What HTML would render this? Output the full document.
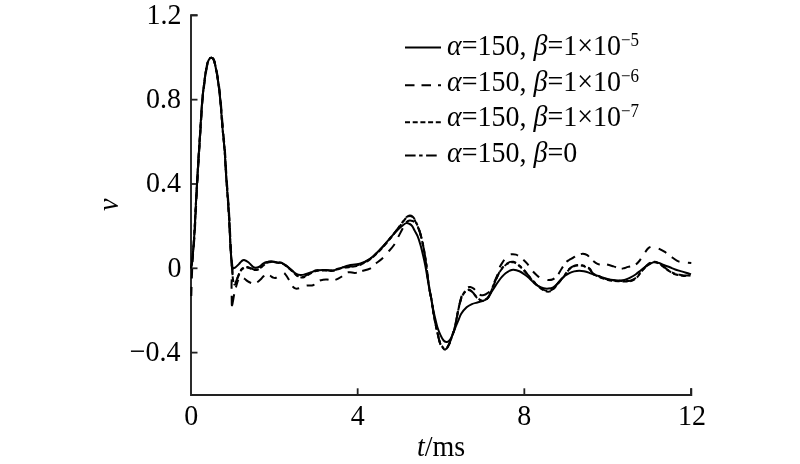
<!DOCTYPE html>
<html><head><meta charset="utf-8"><style>
html,body{margin:0;padding:0;background:#fff;}
svg{display:block;}
text{font-family:'Liberation Serif','Times New Roman',serif;font-size:28px;fill:#000;}
</style></head><body>
<svg width="800" height="464" viewBox="0 0 800 464">
<rect width="800" height="464" fill="#fff"/>
<path d="M197.5 15.3 H191 V395 H691.3 V388.3" fill="none" stroke="#222" stroke-width="1.9"/>
<line x1="191" y1="15.34" x2="197.5" y2="15.34" stroke="#222" stroke-width="1.8"/>
<g transform="translate(181.50 23.84) scale(1 1.070)"><text x="0" y="0" text-anchor="end">1.2</text></g>
<line x1="191" y1="99.66" x2="197.5" y2="99.66" stroke="#222" stroke-width="1.8"/>
<g transform="translate(181.00 108.16) scale(1 1.070)"><text x="0" y="0" text-anchor="end">0.8</text></g>
<line x1="191" y1="183.98" x2="197.5" y2="183.98" stroke="#222" stroke-width="1.8"/>
<g transform="translate(181.00 192.48) scale(1 1.070)"><text x="0" y="0" text-anchor="end">0.4</text></g>
<line x1="191" y1="268.30" x2="197.5" y2="268.30" stroke="#222" stroke-width="1.8"/>
<g transform="translate(181.50 276.80) scale(1 1.070)"><text x="0" y="0" text-anchor="end">0</text></g>
<line x1="191" y1="352.62" x2="197.5" y2="352.62" stroke="#222" stroke-width="1.8"/>
<g transform="translate(180.50 361.12) scale(1 1.070)"><text x="0" y="0" text-anchor="end">−0.4</text></g>
<g transform="translate(191.35 425.30) scale(1 1.070)"><text x="0" y="0" text-anchor="middle">0</text></g>
<line x1="357.67" y1="395" x2="357.67" y2="388.3" stroke="#222" stroke-width="1.8"/>
<g transform="translate(357.67 425.30) scale(1 1.070)"><text x="0" y="0" text-anchor="middle">4</text></g>
<line x1="524.33" y1="395" x2="524.33" y2="388.3" stroke="#222" stroke-width="1.8"/>
<g transform="translate(524.33 425.30) scale(1 1.070)"><text x="0" y="0" text-anchor="middle">8</text></g>
<line x1="691.00" y1="395" x2="691.00" y2="388.3" stroke="#222" stroke-width="1.8"/>
<g transform="translate(692.00 425.30) scale(1 1.070)"><text x="0" y="0" text-anchor="middle">12</text></g>

<g clip-path="url(#c)">
<path d="M191.30 296.00 C191.35 294.17 191.48 288.67 191.60 285.00 C191.72 281.33 191.83 278.17 192.00 274.00 C192.17 269.83 192.17 266.50 192.60 260.00 C193.03 253.50 193.97 245.00 194.60 235.00 C195.23 225.00 195.77 211.67 196.40 200.00 C197.03 188.33 197.70 176.67 198.40 165.00 C199.10 153.33 199.90 140.83 200.60 130.00 C201.30 119.17 201.88 108.33 202.60 100.00 C203.32 91.67 204.12 85.83 204.90 80.00 C205.68 74.17 206.53 68.47 207.30 65.00 C208.07 61.53 208.78 60.42 209.50 59.20 C210.22 57.98 210.90 57.70 211.60 57.70 C212.30 57.70 213.05 57.98 213.70 59.20 C214.35 60.42 214.75 61.53 215.50 65.00 C216.25 68.47 217.35 74.17 218.20 80.00 C219.05 85.83 219.80 91.67 220.60 100.00 C221.40 108.33 222.28 121.67 223.00 130.00 C223.72 138.33 224.33 142.50 224.90 150.00 C225.47 157.50 225.85 166.67 226.40 175.00 C226.95 183.33 227.68 192.50 228.20 200.00 C228.72 207.50 229.08 212.50 229.50 220.00 C229.92 227.50 230.33 238.33 230.70 245.00 C231.07 251.67 231.42 256.12 231.70 260.00 C231.98 263.88 232.42 264.63 232.40 268.30 C232.38 271.97 231.72 277.38 231.60 282.00 C231.48 286.62 231.65 292.12 231.70 296.00 C231.75 299.88 231.68 304.47 231.90 305.30 C232.12 306.13 232.62 302.83 233.00 301.00 C233.38 299.17 233.70 296.63 234.20 294.30 C234.70 291.97 235.37 289.30 236.00 287.00 C236.63 284.70 237.33 282.20 238.00 280.50 C238.67 278.80 239.28 277.35 240.00 276.80 C240.72 276.25 241.53 276.87 242.30 277.20 C243.07 277.53 243.73 278.13 244.60 278.80 C245.47 279.47 246.52 280.53 247.50 281.20 C248.48 281.87 249.45 282.40 250.50 282.80 C251.55 283.20 252.72 283.67 253.80 283.60 C254.88 283.53 255.88 283.08 257.00 282.40 C258.12 281.72 259.43 280.50 260.50 279.50 C261.57 278.50 262.40 277.18 263.40 276.40 C264.40 275.62 265.40 274.92 266.50 274.80 C267.60 274.68 268.92 275.25 270.00 275.70 C271.08 276.15 272.00 277.17 273.00 277.50 C274.00 277.83 274.83 278.18 276.00 277.70 C277.17 277.22 278.75 275.42 280.00 274.60 C281.25 273.78 282.50 272.70 283.50 272.80 C284.50 272.90 285.15 274.12 286.00 275.20 C286.85 276.28 287.60 277.57 288.60 279.30 C289.60 281.03 290.90 284.08 292.00 285.60 C293.10 287.12 294.03 287.95 295.20 288.40 C296.37 288.85 297.20 288.77 299.00 288.30 C300.80 287.83 303.67 286.12 306.00 285.60 C308.33 285.08 310.83 285.98 313.00 285.20 C315.17 284.42 317.33 281.80 319.00 280.90 C320.67 280.00 321.65 280.02 323.00 279.80 C324.35 279.58 325.77 279.52 327.10 279.60 C328.43 279.68 329.68 280.23 331.00 280.30 C332.32 280.37 333.33 280.55 335.00 280.00 C336.67 279.45 339.17 278.20 341.00 277.00 C342.83 275.80 344.50 273.60 346.00 272.80 C347.50 272.00 348.50 272.17 350.00 272.20 C351.50 272.23 353.10 273.17 355.00 273.00 C356.90 272.83 358.90 271.93 361.40 271.20 C363.90 270.47 367.70 269.80 370.00 268.60 C372.30 267.40 373.20 265.63 375.20 264.00 C377.20 262.37 379.87 260.77 382.00 258.80 C384.13 256.83 386.00 254.50 388.00 252.20 C390.00 249.90 392.33 247.48 394.00 245.00 C395.67 242.52 396.67 239.83 398.00 237.30 C399.33 234.77 400.92 231.88 402.00 229.80 C403.08 227.72 403.73 226.10 404.50 224.80 C405.27 223.50 405.75 222.70 406.60 222.00 C407.45 221.30 408.62 220.77 409.60 220.60 C410.58 220.43 411.67 220.72 412.50 221.00 C413.33 221.28 413.87 221.60 414.60 222.30 C415.33 223.00 416.12 223.82 416.90 225.20 C417.68 226.58 418.62 228.73 419.30 230.60 C419.98 232.47 420.38 234.00 421.00 236.40 C421.62 238.80 422.37 241.90 423.00 245.00 C423.63 248.10 424.25 251.67 424.80 255.00 C425.35 258.33 425.80 261.17 426.30 265.00 C426.80 268.83 427.25 273.83 427.80 278.00 C428.35 282.17 428.98 286.33 429.60 290.00 C430.22 293.67 430.93 296.67 431.50 300.00 C432.07 303.33 432.53 307.00 433.00 310.00 C433.47 313.00 433.68 314.73 434.30 318.00 C434.92 321.27 435.92 325.98 436.70 329.60 C437.48 333.22 438.37 337.23 439.00 339.70 C439.63 342.17 439.85 343.05 440.50 344.40 C441.15 345.75 442.25 346.98 442.90 347.80 C443.55 348.62 443.77 349.18 444.40 349.30 C445.03 349.42 445.98 349.20 446.70 348.50 C447.42 347.80 448.12 346.18 448.70 345.10 C449.28 344.02 449.62 343.55 450.20 342.00 C450.78 340.45 451.48 337.98 452.20 335.80 C452.92 333.62 453.87 331.22 454.50 328.90 C455.13 326.58 455.53 324.22 456.00 321.90 C456.47 319.58 456.88 317.15 457.30 315.00 C457.72 312.85 457.97 311.50 458.50 309.00 C459.03 306.50 459.83 302.58 460.50 300.00 C461.17 297.42 461.75 295.25 462.50 293.50 C463.25 291.75 464.17 290.50 465.00 289.50 C465.83 288.50 466.62 287.92 467.50 287.50 C468.38 287.08 469.28 286.82 470.30 287.00 C471.32 287.18 472.25 287.47 473.60 288.60 C474.95 289.73 476.83 292.68 478.40 293.80 C479.97 294.92 481.38 295.47 483.00 295.30 C484.62 295.13 486.77 293.85 488.10 292.80 C489.43 291.75 490.13 290.42 491.00 289.00 C491.87 287.58 492.28 286.52 493.30 284.30 C494.32 282.08 496.12 278.38 497.10 275.70 C498.08 273.02 498.22 270.53 499.20 268.20 C500.18 265.87 501.87 263.53 503.00 261.70 C504.13 259.87 505.00 258.35 506.00 257.20 C507.00 256.05 507.92 255.30 509.00 254.80 C510.08 254.30 511.33 254.23 512.50 254.20 C513.67 254.17 514.83 254.22 516.00 254.60 C517.17 254.98 518.45 255.82 519.50 256.50 C520.55 257.18 521.02 257.52 522.30 258.70 C523.58 259.88 525.58 261.65 527.20 263.60 C528.82 265.55 530.32 268.38 532.00 270.40 C533.68 272.42 535.80 274.43 537.30 275.70 C538.80 276.97 539.53 277.35 541.00 278.00 C542.47 278.65 544.77 279.27 546.10 279.60 C547.43 279.93 547.95 280.02 549.00 280.00 C550.05 279.98 551.32 279.92 552.40 279.50 C553.48 279.08 554.57 278.28 555.50 277.50 C556.43 276.72 556.98 276.25 558.00 274.80 C559.02 273.35 560.35 270.78 561.60 268.80 C562.85 266.82 564.27 264.37 565.50 262.90 C566.73 261.43 567.70 260.88 569.00 260.00 C570.30 259.12 572.05 258.35 573.30 257.60 C574.55 256.85 575.45 256.02 576.50 255.50 C577.55 254.98 578.52 254.78 579.60 254.50 C580.68 254.22 581.72 253.68 583.00 253.80 C584.28 253.92 585.77 254.17 587.30 255.20 C588.83 256.23 590.50 258.55 592.20 260.00 C593.90 261.45 595.87 263.17 597.50 263.90 C599.13 264.63 600.60 264.35 602.00 264.40 C603.40 264.45 603.98 263.87 605.90 264.20 C607.82 264.53 611.17 265.67 613.50 266.40 C615.83 267.13 618.15 268.30 619.90 268.60 C621.65 268.90 622.65 268.48 624.00 268.20 C625.35 267.92 626.25 267.38 628.00 266.90 C629.75 266.42 632.62 266.28 634.50 265.30 C636.38 264.32 637.68 262.97 639.30 261.00 C640.92 259.03 642.67 255.65 644.20 253.50 C645.73 251.35 647.28 249.25 648.50 248.10 C649.72 246.95 650.50 246.87 651.50 246.60 C652.50 246.33 653.52 246.28 654.50 246.50 C655.48 246.72 655.75 247.03 657.40 247.90 C659.05 248.77 662.25 250.35 664.40 251.70 C666.55 253.05 668.15 254.47 670.30 256.00 C672.45 257.53 675.43 259.87 677.30 260.90 C679.17 261.93 680.05 261.93 681.50 262.20 C682.95 262.47 684.37 262.37 686.00 262.50 C687.63 262.63 690.42 262.92 691.30 263.00" fill="none" stroke="#000" stroke-width="2.00" stroke-linejoin="round" stroke-dasharray="9.0 8.5 9.5 7.0 8.8 7.0 8.8 7.0 8.8 7.0 8.8 7.0 8.8 7.0 8.8 7.0 8.8 7.0 8.8 7.0 8.8 7.0 8.8 7.0 8.8 7.0 8.8 7.0 8.8 7.0 8.8 7.0 8.8 7.0 8.8 7.0 8.8 7.0 8.8 7.0 8.8 7.0 8.8 7.0 8.8 7.0 8.8 7.0 8.8 7.0 8.8 7.0 8.8 7.0 8.8 7.0 8.8 10.9 9.5 7.0 21.0 7.0 8.0 8.0 8.5 6.5 9.5 6.0 7.5 9.0 8.5 7.0 7.5 8.0 8.0 6.5 9.0 7.0 7.5 7.0 9.5 5.5 9.0 7.0 9.0 8.5 9.5 8.0 9.5 7.0 9.0 6.8 8.8 7.0 8.8 7.0 8.8 7.0 8.8 7.0 8.8 7.0 8.8 7.0 8.8 7.0 8.8 7.0 8.8 7.0 8.8 7.0 8.8 7.0 8.8 11.1 8.0 6.5 11.0 10.5 8.5 7.5 8.5 9.0 7.5 7.0 7.5 7.5 8.5 8.5 7.5 6.0 8.5 6.0 10.0 6.5 9.0 6.0 7.5 7.5 9.0 6.0 9.0 6.0 7.5 8.0 7.5 9.0 8.5 7.0 9.0 8.5 9.5 2000.0"/>
<path d="M191.00 268.30 C191.22 266.92 191.75 265.55 192.30 260.00 C192.85 254.45 193.67 245.00 194.30 235.00 C194.93 225.00 195.47 211.67 196.10 200.00 C196.73 188.33 197.40 176.67 198.10 165.00 C198.80 153.33 199.60 140.83 200.30 130.00 C201.00 119.17 201.58 108.33 202.30 100.00 C203.02 91.67 203.82 85.83 204.60 80.00 C205.38 74.17 206.23 68.47 207.00 65.00 C207.77 61.53 208.48 60.42 209.20 59.20 C209.92 57.98 210.60 57.70 211.30 57.70 C212.00 57.70 212.75 57.98 213.40 59.20 C214.05 60.42 214.45 61.53 215.20 65.00 C215.95 68.47 217.05 74.17 217.90 80.00 C218.75 85.83 219.50 91.67 220.30 100.00 C221.10 108.33 221.98 121.67 222.70 130.00 C223.42 138.33 224.03 142.50 224.60 150.00 C225.17 157.50 225.55 166.67 226.10 175.00 C226.65 183.33 227.38 192.50 227.90 200.00 C228.42 207.50 228.78 212.50 229.20 220.00 C229.62 227.50 230.03 238.33 230.40 245.00 C230.77 251.67 231.12 256.12 231.40 260.00 C231.68 263.88 231.95 266.63 232.10 268.30 C232.25 269.97 232.22 268.72 232.30 270.00 C232.38 271.28 232.45 274.08 232.60 276.00 C232.75 277.92 232.93 280.12 233.20 281.50 C233.47 282.88 233.85 283.88 234.20 284.30 C234.55 284.72 234.83 284.80 235.30 284.00 C235.77 283.20 236.23 281.42 237.00 279.50 C237.77 277.58 239.07 274.20 239.90 272.50 C240.73 270.80 241.23 270.08 242.00 269.30 C242.77 268.52 243.65 268.10 244.50 267.80 C245.35 267.50 246.02 267.33 247.10 267.50 C248.18 267.67 249.78 268.37 251.00 268.80 C252.22 269.23 253.10 270.03 254.40 270.10 C255.70 270.17 257.37 269.92 258.80 269.20 C260.23 268.48 261.72 266.83 263.00 265.80 C264.28 264.77 265.13 263.63 266.50 263.00 C267.87 262.37 269.38 262.03 271.20 262.00 C273.02 261.97 275.47 262.50 277.40 262.80 C279.33 263.10 281.12 263.05 282.80 263.80 C284.48 264.55 285.95 266.07 287.50 267.30 C289.05 268.53 290.53 269.78 292.10 271.20 C293.67 272.62 295.50 274.78 296.90 275.80 C298.30 276.82 299.35 277.07 300.50 277.30 C301.65 277.53 302.38 277.70 303.80 277.20 C305.22 276.70 306.97 275.33 309.00 274.30 C311.03 273.27 313.42 271.63 316.00 271.00 C318.58 270.37 321.67 270.53 324.50 270.50 C327.33 270.47 330.13 271.22 333.00 270.80 C335.87 270.38 339.03 268.60 341.70 268.00 C344.37 267.40 346.78 267.48 349.00 267.20 C351.22 266.92 352.93 266.78 355.00 266.30 C357.07 265.82 358.90 265.43 361.40 264.30 C363.90 263.17 366.85 261.88 370.00 259.50 C373.15 257.12 376.85 253.58 380.30 250.00 C383.75 246.42 387.92 241.33 390.70 238.00 C393.48 234.67 395.45 232.00 397.00 230.00 C398.55 228.00 399.03 227.30 400.00 226.00 C400.97 224.70 401.83 223.48 402.80 222.20 C403.77 220.92 404.93 219.23 405.80 218.30 C406.67 217.37 407.30 216.97 408.00 216.60 C408.70 216.23 409.25 216.03 410.00 216.10 C410.75 216.17 411.80 216.52 412.50 217.00 C413.20 217.48 413.50 217.80 414.20 219.00 C414.90 220.20 415.85 222.27 416.70 224.20 C417.55 226.13 418.58 228.57 419.30 230.60 C420.02 232.63 420.38 234.00 421.00 236.40 C421.62 238.80 422.37 241.90 423.00 245.00 C423.63 248.10 424.25 251.67 424.80 255.00 C425.35 258.33 425.80 261.17 426.30 265.00 C426.80 268.83 427.25 273.83 427.80 278.00 C428.35 282.17 428.98 286.33 429.60 290.00 C430.22 293.67 430.93 296.67 431.50 300.00 C432.07 303.33 432.53 307.00 433.00 310.00 C433.47 313.00 433.68 314.73 434.30 318.00 C434.92 321.27 435.92 325.98 436.70 329.60 C437.48 333.22 438.37 337.23 439.00 339.70 C439.63 342.17 439.85 343.05 440.50 344.40 C441.15 345.75 442.25 346.97 442.90 347.80 C443.55 348.63 443.77 349.27 444.40 349.40 C445.03 349.53 445.98 349.32 446.70 348.60 C447.42 347.88 448.12 346.20 448.70 345.10 C449.28 344.00 449.62 343.55 450.20 342.00 C450.78 340.45 451.48 337.98 452.20 335.80 C452.92 333.62 453.87 331.22 454.50 328.90 C455.13 326.58 455.53 324.22 456.00 321.90 C456.47 319.58 456.88 317.15 457.30 315.00 C457.72 312.85 457.85 311.72 458.50 309.00 C459.15 306.28 460.30 301.32 461.20 298.70 C462.10 296.08 462.83 294.73 463.90 293.30 C464.97 291.87 466.43 290.48 467.60 290.10 C468.77 289.72 469.82 290.28 470.90 291.00 C471.98 291.72 473.03 293.20 474.10 294.40 C475.17 295.60 476.18 297.17 477.30 298.20 C478.42 299.23 479.68 300.20 480.80 300.60 C481.92 301.00 482.97 300.87 484.00 300.60 C485.03 300.33 486.08 299.85 487.00 299.00 C487.92 298.15 488.42 297.75 489.50 295.50 C490.58 293.25 492.25 288.50 493.50 285.50 C494.75 282.50 495.92 279.83 497.00 277.50 C498.08 275.17 498.92 273.25 500.00 271.50 C501.08 269.75 502.33 268.25 503.50 267.00 C504.67 265.75 505.83 264.77 507.00 264.00 C508.17 263.23 509.42 262.68 510.50 262.40 C511.58 262.12 512.42 262.03 513.50 262.30 C514.58 262.57 515.83 263.22 517.00 264.00 C518.17 264.78 519.33 265.92 520.50 267.00 C521.67 268.08 522.83 269.20 524.00 270.50 C525.17 271.80 526.33 273.38 527.50 274.80 C528.67 276.22 529.75 277.60 531.00 279.00 C532.25 280.40 533.67 281.87 535.00 283.20 C536.33 284.53 537.67 285.87 539.00 287.00 C540.33 288.13 541.67 289.23 543.00 290.00 C544.33 290.77 545.83 291.38 547.00 291.60 C548.17 291.82 548.83 291.82 550.00 291.30 C551.17 290.78 552.67 289.80 554.00 288.50 C555.33 287.20 556.40 285.42 558.00 283.50 C559.60 281.58 561.70 279.38 563.60 277.00 C565.50 274.62 567.47 271.05 569.40 269.20 C571.33 267.35 573.75 266.53 575.20 265.90 C576.65 265.27 576.80 265.40 578.10 265.40 C579.40 265.40 581.53 265.50 583.00 265.90 C584.47 266.30 585.77 267.25 586.90 267.80 C588.03 268.35 588.92 268.32 589.80 269.20 C590.68 270.08 591.40 272.17 592.20 273.10 C593.00 274.03 593.55 274.22 594.60 274.80 C595.65 275.38 597.05 275.97 598.50 276.60 C599.95 277.23 601.70 278.03 603.30 278.60 C604.90 279.17 606.48 279.63 608.10 280.00 C609.72 280.37 611.35 280.60 613.00 280.80 C614.65 281.00 615.85 281.08 618.00 281.20 C620.15 281.32 623.87 281.50 625.90 281.50 C627.93 281.50 628.77 281.57 630.20 281.20 C631.63 280.83 633.25 280.07 634.50 279.30 C635.75 278.53 636.63 277.77 637.70 276.60 C638.77 275.43 639.82 273.63 640.90 272.30 C641.98 270.97 643.12 269.77 644.20 268.60 C645.28 267.43 646.35 266.20 647.40 265.30 C648.45 264.40 649.28 263.70 650.50 263.20 C651.72 262.70 653.28 262.23 654.70 262.30 C656.12 262.37 657.57 262.85 659.00 263.60 C660.43 264.35 662.03 265.82 663.30 266.80 C664.57 267.78 665.33 268.60 666.60 269.50 C667.87 270.40 669.47 271.40 670.90 272.20 C672.33 273.00 673.58 273.77 675.20 274.30 C676.82 274.83 678.80 275.12 680.60 275.40 C682.40 275.68 684.35 275.98 686.00 276.00 C687.65 276.02 689.75 275.58 690.50 275.50" fill="none" stroke="#000" stroke-width="2.00" stroke-linejoin="round" stroke-dasharray="5 2.7" stroke-dashoffset="4.90"/>
<path d="M191.00 268.30 C191.22 266.92 191.75 265.55 192.30 260.00 C192.85 254.45 193.67 245.00 194.30 235.00 C194.93 225.00 195.47 211.67 196.10 200.00 C196.73 188.33 197.40 176.67 198.10 165.00 C198.80 153.33 199.60 140.83 200.30 130.00 C201.00 119.17 201.58 108.33 202.30 100.00 C203.02 91.67 203.82 85.83 204.60 80.00 C205.38 74.17 206.23 68.47 207.00 65.00 C207.77 61.53 208.48 60.42 209.20 59.20 C209.92 57.98 210.60 57.70 211.30 57.70 C212.00 57.70 212.75 57.98 213.40 59.20 C214.05 60.42 214.45 61.53 215.20 65.00 C215.95 68.47 217.05 74.17 217.90 80.00 C218.75 85.83 219.50 91.67 220.30 100.00 C221.10 108.33 221.98 121.67 222.70 130.00 C223.42 138.33 224.03 142.50 224.60 150.00 C225.17 157.50 225.55 166.67 226.10 175.00 C226.65 183.33 227.38 192.50 227.90 200.00 C228.42 207.50 228.78 212.50 229.20 220.00 C229.62 227.50 230.03 238.33 230.40 245.00 C230.77 251.67 231.12 256.12 231.40 260.00 C231.68 263.88 231.95 266.72 232.10 268.30 C232.25 269.88 232.22 268.30 232.30 269.50 C232.38 270.70 232.45 273.58 232.60 275.50 C232.75 277.42 232.93 279.62 233.20 281.00 C233.47 282.38 233.85 283.38 234.20 283.80 C234.55 284.22 234.83 284.30 235.30 283.50 C235.77 282.70 236.23 280.92 237.00 279.00 C237.77 277.08 239.07 273.70 239.90 272.00 C240.73 270.30 241.23 269.58 242.00 268.80 C242.77 268.02 243.65 267.60 244.50 267.30 C245.35 267.00 246.02 266.83 247.10 267.00 C248.18 267.17 249.78 267.87 251.00 268.30 C252.22 268.73 253.10 269.53 254.40 269.60 C255.70 269.67 257.37 269.42 258.80 268.70 C260.23 267.98 261.72 266.33 263.00 265.30 C264.28 264.27 265.13 263.13 266.50 262.50 C267.87 261.87 269.38 261.53 271.20 261.50 C273.02 261.47 275.47 262.00 277.40 262.30 C279.33 262.60 281.12 262.55 282.80 263.30 C284.48 264.05 285.95 265.57 287.50 266.80 C289.05 268.03 290.53 269.28 292.10 270.70 C293.67 272.12 295.50 274.28 296.90 275.30 C298.30 276.32 299.35 276.57 300.50 276.80 C301.65 277.03 302.38 277.20 303.80 276.70 C305.22 276.20 306.97 274.83 309.00 273.80 C311.03 272.77 313.42 271.13 316.00 270.50 C318.58 269.87 321.67 270.03 324.50 270.00 C327.33 269.97 330.13 270.72 333.00 270.30 C335.87 269.88 339.03 268.10 341.70 267.50 C344.37 266.90 346.78 266.98 349.00 266.70 C351.22 266.42 352.93 266.28 355.00 265.80 C357.07 265.32 358.90 264.93 361.40 263.80 C363.90 262.67 366.85 261.38 370.00 259.00 C373.15 256.62 376.85 253.08 380.30 249.50 C383.75 245.92 387.92 240.83 390.70 237.50 C393.48 234.17 395.45 231.50 397.00 229.50 C398.55 227.50 399.03 226.80 400.00 225.50 C400.97 224.20 401.83 222.98 402.80 221.70 C403.77 220.42 404.93 218.73 405.80 217.80 C406.67 216.87 407.30 216.47 408.00 216.10 C408.70 215.73 409.25 215.53 410.00 215.60 C410.75 215.67 411.80 216.02 412.50 216.50 C413.20 216.98 413.50 217.30 414.20 218.50 C414.90 219.70 415.85 221.77 416.70 223.70 C417.55 225.63 418.58 228.07 419.30 230.10 C420.02 232.13 420.38 233.50 421.00 235.90 C421.62 238.30 422.37 241.40 423.00 244.50 C423.63 247.60 424.25 251.17 424.80 254.50 C425.35 257.83 425.80 260.67 426.30 264.50 C426.80 268.33 427.25 273.33 427.80 277.50 C428.35 281.67 428.98 285.83 429.60 289.50 C430.22 293.17 430.93 296.17 431.50 299.50 C432.07 302.83 432.53 306.50 433.00 309.50 C433.47 312.50 433.68 314.23 434.30 317.50 C434.92 320.77 435.92 325.48 436.70 329.10 C437.48 332.72 438.37 336.73 439.00 339.20 C439.63 341.67 439.85 342.55 440.50 343.90 C441.15 345.25 442.25 346.47 442.90 347.30 C443.55 348.13 443.77 348.77 444.40 348.90 C445.03 349.03 445.98 348.82 446.70 348.10 C447.42 347.38 448.12 345.70 448.70 344.60 C449.28 343.50 449.62 343.05 450.20 341.50 C450.78 339.95 451.48 337.48 452.20 335.30 C452.92 333.12 453.87 330.72 454.50 328.40 C455.13 326.08 455.53 323.72 456.00 321.40 C456.47 319.08 456.88 316.65 457.30 314.50 C457.72 312.35 457.85 311.22 458.50 308.50 C459.15 305.78 460.30 300.82 461.20 298.20 C462.10 295.58 462.83 294.23 463.90 292.80 C464.97 291.37 466.43 289.98 467.60 289.60 C468.77 289.22 469.82 289.78 470.90 290.50 C471.98 291.22 473.03 292.70 474.10 293.90 C475.17 295.10 476.18 296.67 477.30 297.70 C478.42 298.73 479.68 299.70 480.80 300.10 C481.92 300.50 482.97 300.37 484.00 300.10 C485.03 299.83 486.08 299.35 487.00 298.50 C487.92 297.65 488.42 297.25 489.50 295.00 C490.58 292.75 492.25 288.00 493.50 285.00 C494.75 282.00 495.92 279.33 497.00 277.00 C498.08 274.67 498.92 272.75 500.00 271.00 C501.08 269.25 502.33 267.75 503.50 266.50 C504.67 265.25 505.83 264.27 507.00 263.50 C508.17 262.73 509.42 262.18 510.50 261.90 C511.58 261.62 512.42 261.53 513.50 261.80 C514.58 262.07 515.83 262.72 517.00 263.50 C518.17 264.28 519.33 265.42 520.50 266.50 C521.67 267.58 522.83 268.70 524.00 270.00 C525.17 271.30 526.33 272.88 527.50 274.30 C528.67 275.72 529.75 277.10 531.00 278.50 C532.25 279.90 533.67 281.37 535.00 282.70 C536.33 284.03 537.67 285.37 539.00 286.50 C540.33 287.63 541.67 288.73 543.00 289.50 C544.33 290.27 545.83 290.88 547.00 291.10 C548.17 291.32 548.83 291.32 550.00 290.80 C551.17 290.28 552.67 289.30 554.00 288.00 C555.33 286.70 556.40 284.92 558.00 283.00 C559.60 281.08 561.70 278.88 563.60 276.50 C565.50 274.12 567.47 270.55 569.40 268.70 C571.33 266.85 573.75 266.03 575.20 265.40 C576.65 264.77 576.80 264.90 578.10 264.90 C579.40 264.90 581.53 265.00 583.00 265.40 C584.47 265.80 585.77 266.75 586.90 267.30 C588.03 267.85 588.92 267.82 589.80 268.70 C590.68 269.58 591.40 271.67 592.20 272.60 C593.00 273.53 593.55 273.72 594.60 274.30 C595.65 274.88 597.05 275.47 598.50 276.10 C599.95 276.73 601.70 277.53 603.30 278.10 C604.90 278.67 606.48 279.13 608.10 279.50 C609.72 279.87 611.35 280.10 613.00 280.30 C614.65 280.50 615.85 280.58 618.00 280.70 C620.15 280.82 623.87 281.00 625.90 281.00 C627.93 281.00 628.77 281.07 630.20 280.70 C631.63 280.33 633.25 279.57 634.50 278.80 C635.75 278.03 636.63 277.27 637.70 276.10 C638.77 274.93 639.82 273.13 640.90 271.80 C641.98 270.47 643.12 269.27 644.20 268.10 C645.28 266.93 646.35 265.70 647.40 264.80 C648.45 263.90 649.28 263.20 650.50 262.70 C651.72 262.20 653.28 261.73 654.70 261.80 C656.12 261.87 657.57 262.35 659.00 263.10 C660.43 263.85 662.03 265.32 663.30 266.30 C664.57 267.28 665.33 268.10 666.60 269.00 C667.87 269.90 669.47 270.90 670.90 271.70 C672.33 272.50 673.58 273.27 675.20 273.80 C676.82 274.33 678.80 274.62 680.60 274.90 C682.40 275.18 684.35 275.48 686.00 275.50 C687.65 275.52 689.75 275.08 690.50 275.00" fill="none" stroke="#000" stroke-width="2.00" stroke-linejoin="round" stroke-dasharray="10.6 3.5 3.5 3.5" stroke-dashoffset="21.00"/>
<path d="M191.00 268.30 C191.22 266.92 191.75 265.55 192.30 260.00 C192.85 254.45 193.67 245.00 194.30 235.00 C194.93 225.00 195.47 211.67 196.10 200.00 C196.73 188.33 197.40 176.67 198.10 165.00 C198.80 153.33 199.60 140.83 200.30 130.00 C201.00 119.17 201.58 108.33 202.30 100.00 C203.02 91.67 203.82 85.83 204.60 80.00 C205.38 74.17 206.23 68.47 207.00 65.00 C207.77 61.53 208.48 60.42 209.20 59.20 C209.92 57.98 210.60 57.70 211.30 57.70 C212.00 57.70 212.75 57.98 213.40 59.20 C214.05 60.42 214.45 61.53 215.20 65.00 C215.95 68.47 217.05 74.17 217.90 80.00 C218.75 85.83 219.50 91.67 220.30 100.00 C221.10 108.33 221.98 121.67 222.70 130.00 C223.42 138.33 224.03 142.50 224.60 150.00 C225.17 157.50 225.55 166.67 226.10 175.00 C226.65 183.33 227.38 192.50 227.90 200.00 C228.42 207.50 228.78 212.50 229.20 220.00 C229.62 227.50 230.03 238.33 230.40 245.00 C230.77 251.67 231.12 256.12 231.40 260.00 C231.68 263.88 231.67 267.00 232.10 268.30 C232.53 269.60 233.52 267.90 234.00 267.80 C234.48 267.70 234.18 268.32 235.00 267.70 C235.82 267.08 237.82 265.18 238.90 264.10 C239.98 263.02 240.63 261.88 241.50 261.20 C242.37 260.52 242.95 259.82 244.10 260.00 C245.25 260.18 247.10 261.33 248.40 262.30 C249.70 263.27 250.90 264.92 251.90 265.80 C252.90 266.68 253.25 267.40 254.40 267.60 C255.55 267.80 257.35 267.67 258.80 267.00 C260.25 266.33 261.90 264.40 263.10 263.60 C264.30 262.80 264.65 262.55 266.00 262.20 C267.35 261.85 269.30 261.47 271.20 261.50 C273.10 261.53 275.47 262.10 277.40 262.40 C279.33 262.70 281.12 262.60 282.80 263.30 C284.48 264.00 285.95 265.38 287.50 266.60 C289.05 267.82 290.55 269.33 292.10 270.60 C293.65 271.87 295.40 273.47 296.80 274.20 C298.20 274.93 299.30 274.93 300.50 275.00 C301.70 275.07 302.15 275.07 304.00 274.60 C305.85 274.13 309.60 272.88 311.60 272.20 C313.60 271.52 313.85 270.85 316.00 270.50 C318.15 270.15 321.67 270.10 324.50 270.10 C327.33 270.10 330.13 270.90 333.00 270.50 C335.87 270.10 339.10 268.53 341.70 267.70 C344.30 266.87 345.60 266.18 348.60 265.50 C351.60 264.82 356.13 264.72 359.70 263.60 C363.27 262.48 366.57 261.18 370.00 258.80 C373.43 256.42 376.85 252.85 380.30 249.30 C383.75 245.75 387.92 240.63 390.70 237.50 C393.48 234.37 395.12 232.42 397.00 230.50 C398.88 228.58 400.47 227.23 402.00 226.00 C403.53 224.77 404.92 223.43 406.20 223.10 C407.48 222.77 408.70 223.50 409.70 224.00 C410.70 224.50 411.35 224.95 412.20 226.10 C413.05 227.25 413.88 229.18 414.80 230.90 C415.72 232.62 416.75 234.05 417.70 236.40 C418.65 238.75 419.62 241.90 420.50 245.00 C421.38 248.10 422.22 251.67 423.00 255.00 C423.78 258.33 424.45 261.17 425.20 265.00 C425.95 268.83 426.78 273.83 427.50 278.00 C428.22 282.17 428.83 286.33 429.50 290.00 C430.17 293.67 430.87 296.67 431.50 300.00 C432.13 303.33 432.70 307.00 433.30 310.00 C433.90 313.00 434.42 315.12 435.10 318.00 C435.78 320.88 436.50 324.45 437.40 327.30 C438.30 330.15 439.47 332.90 440.50 335.10 C441.53 337.30 442.63 339.35 443.60 340.50 C444.57 341.65 445.45 341.87 446.30 342.00 C447.15 342.13 447.85 342.07 448.70 341.30 C449.55 340.53 450.57 338.95 451.40 337.40 C452.23 335.85 452.93 333.93 453.70 332.00 C454.47 330.07 455.22 327.75 456.00 325.80 C456.78 323.85 457.53 322.30 458.40 320.30 C459.27 318.30 459.83 315.97 461.20 313.80 C462.57 311.63 464.82 308.92 466.60 307.30 C468.38 305.68 470.12 304.90 471.90 304.10 C473.68 303.30 475.68 302.95 477.30 302.50 C478.92 302.05 480.10 301.93 481.60 301.40 C483.10 300.87 485.03 300.20 486.30 299.30 C487.57 298.40 488.28 297.30 489.20 296.00 C490.12 294.70 490.80 293.15 491.80 291.50 C492.80 289.85 494.05 287.85 495.20 286.10 C496.35 284.35 497.55 282.57 498.70 281.00 C499.85 279.43 500.95 278.00 502.10 276.70 C503.25 275.40 504.30 274.22 505.60 273.20 C506.90 272.18 508.58 271.17 509.90 270.60 C511.22 270.03 511.92 269.68 513.50 269.80 C515.08 269.92 517.62 270.57 519.40 271.30 C521.18 272.03 522.58 273.07 524.20 274.20 C525.82 275.33 527.47 276.63 529.10 278.10 C530.73 279.57 532.38 281.62 534.00 283.00 C535.62 284.38 537.20 285.52 538.80 286.40 C540.40 287.28 541.98 287.93 543.60 288.30 C545.22 288.67 546.88 288.77 548.50 288.60 C550.12 288.43 551.68 288.23 553.30 287.30 C554.92 286.37 556.33 284.88 558.20 283.00 C560.07 281.12 562.63 277.65 564.50 276.00 C566.37 274.35 567.78 273.87 569.40 273.10 C571.02 272.33 572.58 271.80 574.20 271.40 C575.82 271.00 577.48 270.73 579.10 270.70 C580.72 270.67 582.28 270.88 583.90 271.20 C585.52 271.52 587.18 272.03 588.80 272.60 C590.42 273.17 591.98 274.03 593.60 274.60 C595.22 275.17 596.88 275.47 598.50 276.00 C600.12 276.53 601.68 277.27 603.30 277.80 C604.92 278.33 606.58 278.82 608.20 279.20 C609.82 279.58 611.37 279.90 613.00 280.10 C614.63 280.30 616.42 280.38 618.00 280.40 C619.58 280.42 621.17 280.35 622.50 280.20 C623.83 280.05 624.72 279.92 626.00 279.50 C627.28 279.08 628.60 278.53 630.20 277.70 C631.80 276.87 633.82 275.75 635.60 274.50 C637.38 273.25 639.28 271.47 640.90 270.20 C642.52 268.93 643.72 268.00 645.30 266.90 C646.88 265.80 648.83 264.43 650.40 263.60 C651.97 262.77 653.27 262.00 654.70 261.90 C656.13 261.80 657.38 262.45 659.00 263.00 C660.62 263.55 662.60 264.48 664.40 265.20 C666.20 265.92 668.00 266.58 669.80 267.30 C671.60 268.02 673.40 268.87 675.20 269.50 C677.00 270.13 678.80 270.57 680.60 271.10 C682.40 271.63 684.27 272.17 686.00 272.70 C687.73 273.23 690.17 274.03 691.00 274.30" fill="none" stroke="#000" stroke-width="2.00" stroke-linejoin="round"/>
</g>
<defs><clipPath id="c"><rect x="190" y="10" width="510" height="385"/></clipPath></defs>
<g transform="translate(417.00 455.50) scale(1 1.070)"><text x="0" y="0"><tspan font-style="italic">t</tspan>/ms</text></g>
<g transform="translate(117.5 211) rotate(-90) scale(1 1.070)"><text x="0" y="0" font-style="italic">v</text></g>

<line x1="405" y1="47.6" x2="441" y2="47.6" stroke="#000" stroke-width="2"/>
<g transform="translate(447.00 54.70) scale(1 1.070)"><text x="0" y="0"><tspan font-style="italic">α</tspan>=150, <tspan font-style="italic">β</tspan>=1×10<tspan font-size="17" dy="-8.3">−5</tspan></text></g>
<line x1="405" y1="85.2" x2="441" y2="85.2" stroke="#000" stroke-width="2" stroke-dasharray="9.5 7"/>
<g transform="translate(447.00 90.80) scale(1 1.070)"><text x="0" y="0"><tspan font-style="italic">α</tspan>=150, <tspan font-style="italic">β</tspan>=1×10<tspan font-size="17" dy="-8.3">−6</tspan></text></g>
<line x1="405" y1="122.2" x2="441" y2="122.2" stroke="#000" stroke-width="2" stroke-dasharray="5 2.7"/>
<g transform="translate(447.00 126.00) scale(1 1.070)"><text x="0" y="0"><tspan font-style="italic">α</tspan>=150, <tspan font-style="italic">β</tspan>=1×10<tspan font-size="17" dy="-8.3">−7</tspan></text></g>
<line x1="405" y1="155.5" x2="437" y2="155.5" stroke="#000" stroke-width="2" stroke-dasharray="10.6 3.5 3.5 3.5"/>
<g transform="translate(447.00 162.00) scale(1 1.070)"><text x="0" y="0"><tspan font-style="italic">α</tspan>=150, <tspan font-style="italic">β</tspan>=0</text></g>

</svg>
</body></html>
